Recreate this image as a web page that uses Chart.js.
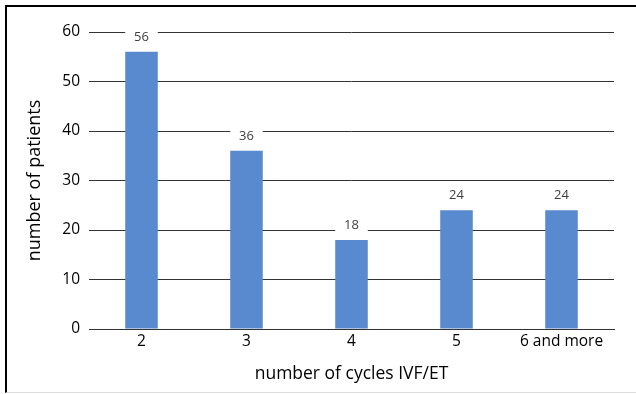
<!DOCTYPE html>
<html>
<head>
<meta charset="utf-8">
<script src="https://cdn.jsdelivr.net/npm/chart.js@4/dist/chart.umd.min.js"></script>
<style>
  body { margin: 0; background: #fff; }
  #wrap { position: relative; width: 636px; height: 394px; }
  #frame {
    position: absolute; left: 5px; top: 5px; right: 0; height: 388px;
    box-sizing: border-box;
    border-left: 2px solid #000; border-top: 2px solid #000; border-bottom: 1px solid #ddd;
    pointer-events: none;
  }
</style>
</head>
<body>
<div id="wrap">
  <canvas id="cycles-chart" width="636" height="394"></canvas>
  <div id="frame"></div>
</div>
<script>
const cycleLabels = ["2", "3", "4", "5", "6 and more"];
const patientCounts = [56, 36, 18, 24, 24];
const yMax = 60;
const yStep = 10;

const fontFamily = "'Open Sans', 'Noto Sans', sans-serif";

// value labels above the bars, with a white box that breaks the grid line
const barLabels = {
  id: "barLabels",
  afterDatasetsDraw(chart) {
    const ctx = chart.ctx;
    const meta = chart.getDatasetMeta(0);
    ctx.save();
    ctx.font = "13px " + fontFamily;
    ctx.textAlign = "center";
    ctx.textBaseline = "middle";
    meta.data.forEach((bar, i) => {
      const cy = bar.y - 15;
      ctx.fillStyle = "#fff";
      ctx.fillRect(bar.x - bar.width / 2, cy - 8, bar.width, 16);
      ctx.fillStyle = "#404040";
      ctx.fillText(String(patientCounts[i]), bar.x, cy);
    });
    ctx.restore();
  }
};

new Chart("cycles-chart", {
  type: "bar",
  data: {
    labels: cycleLabels,
    datasets: [{
      label: "number of patients",
      data: patientCounts,
      backgroundColor: "rgb(89,137,206)",
      borderWidth: 0,
      barPercentage: 0.31,
      categoryPercentage: 1
    }]
  },
  options: {
    responsive: false,
    animation: false,
    devicePixelRatio: 1,
    layout: { padding: { left: 24, top: 32, right: 22, bottom: 9 } },
    plugins: {
      legend: { display: false },
      tooltip: { enabled: false }
    },
    scales: {
      x: {
        grid: { display: false, drawTicks: false },
        border: { display: true, color: "#333", width: 1 },
        ticks: { color: "#000", padding: 3, font: { family: fontFamily, size: 15.5 } },
        title: {
          display: true, text: "number of cycles IVF/ET", color: "#000",
          padding: 0, font: { family: fontFamily, size: 17.5 }
        },
        afterFit(scale) { scale.height = 56; }
      },
      y: {
        min: 0, max: yMax,
        grid: { color: "#333", drawTicks: false },
        border: { display: false },
        ticks: { stepSize: yStep, color: "#000", padding: 9, font: { family: fontFamily, size: 15.5 } },
        title: {
          display: true, text: "number of patients", color: "#000",
          padding: 0, font: { family: fontFamily, size: 18 }
        },
        afterFit(scale) { scale.width = 65; }
      }
    }
  },
  plugins: [barLabels]
});
</script>
</body>
</html>
